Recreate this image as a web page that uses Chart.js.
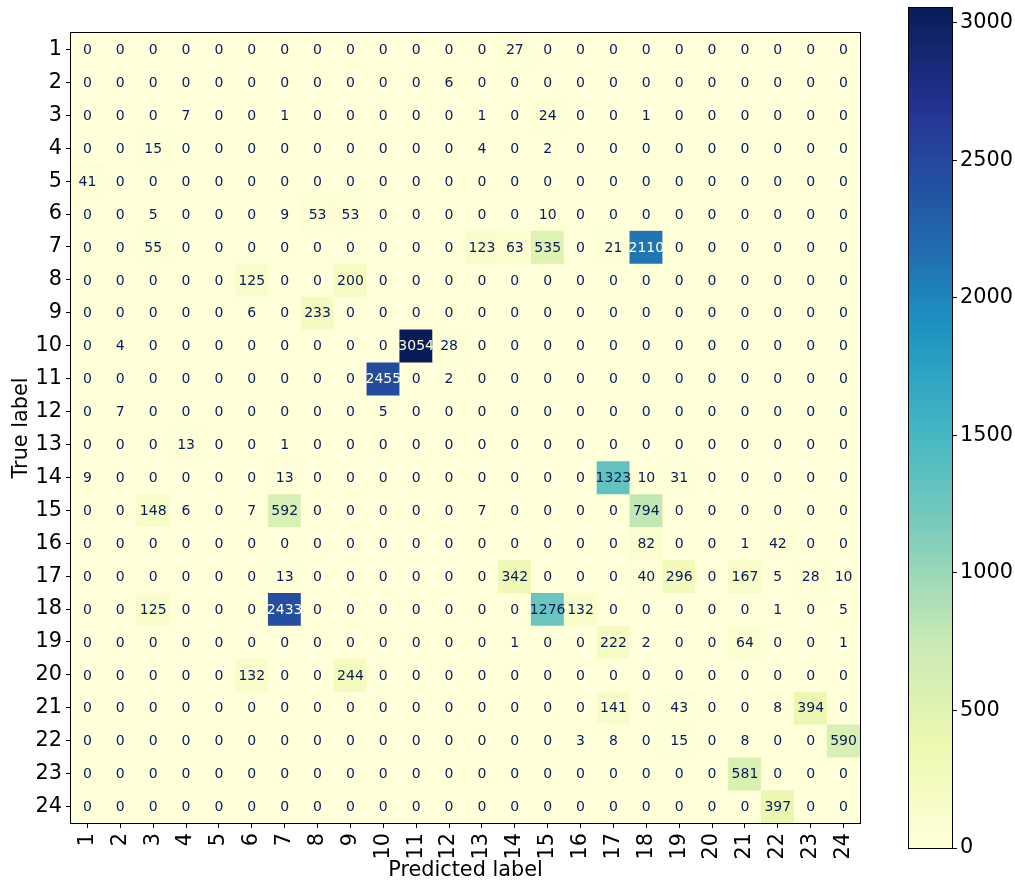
<!DOCTYPE html>
<html>
<head>
<meta charset="utf-8">
<title>Confusion matrix</title>
<script src="https://cdn.jsdelivr.net/npm/chart.js@4.4.1/dist/chart.umd.min.js"></script>
<style>
    html, body { margin: 0; padding: 0; background: #fff; }
    #wrap { position: relative; width: 1015px; height: 882px; }
    #matrixChart { position: absolute; left: 0; top: 0; }
    #colorbar { position: absolute; left: 860px; top: 0; }
</style>
</head>
<body>
<div id="wrap">
    <canvas id="matrixChart" width="900" height="882"></canvas>
    <canvas id="colorbar" width="155" height="882"></canvas>
</div>
<script>
const trueLabels = ["1", "2", "3", "4", "5", "6", "7", "8", "9", "10", "11", "12",
    "13", "14", "15", "16", "17", "18", "19", "20", "21", "22", "23", "24"];
const predictedLabels = ["1", "2", "3", "4", "5", "6", "7", "8", "9", "10", "11", "12",
    "13", "14", "15", "16", "17", "18", "19", "20", "21", "22", "23", "24"];

// rows = true label, columns = predicted label
const counts = [
    [0, 0, 0, 0, 0, 0, 0, 0, 0, 0, 0, 0, 0, 27, 0, 0, 0, 0, 0, 0, 0, 0, 0, 0],
    [0, 0, 0, 0, 0, 0, 0, 0, 0, 0, 0, 6, 0, 0, 0, 0, 0, 0, 0, 0, 0, 0, 0, 0],
    [0, 0, 0, 7, 0, 0, 1, 0, 0, 0, 0, 0, 1, 0, 24, 0, 0, 1, 0, 0, 0, 0, 0, 0],
    [0, 0, 15, 0, 0, 0, 0, 0, 0, 0, 0, 0, 4, 0, 2, 0, 0, 0, 0, 0, 0, 0, 0, 0],
    [41, 0, 0, 0, 0, 0, 0, 0, 0, 0, 0, 0, 0, 0, 0, 0, 0, 0, 0, 0, 0, 0, 0, 0],
    [0, 0, 5, 0, 0, 0, 9, 53, 53, 0, 0, 0, 0, 0, 10, 0, 0, 0, 0, 0, 0, 0, 0, 0],
    [0, 0, 55, 0, 0, 0, 0, 0, 0, 0, 0, 0, 123, 63, 535, 0, 21, 2110, 0, 0, 0, 0, 0, 0],
    [0, 0, 0, 0, 0, 125, 0, 0, 200, 0, 0, 0, 0, 0, 0, 0, 0, 0, 0, 0, 0, 0, 0, 0],
    [0, 0, 0, 0, 0, 6, 0, 233, 0, 0, 0, 0, 0, 0, 0, 0, 0, 0, 0, 0, 0, 0, 0, 0],
    [0, 4, 0, 0, 0, 0, 0, 0, 0, 0, 3054, 28, 0, 0, 0, 0, 0, 0, 0, 0, 0, 0, 0, 0],
    [0, 0, 0, 0, 0, 0, 0, 0, 0, 2455, 0, 2, 0, 0, 0, 0, 0, 0, 0, 0, 0, 0, 0, 0],
    [0, 7, 0, 0, 0, 0, 0, 0, 0, 5, 0, 0, 0, 0, 0, 0, 0, 0, 0, 0, 0, 0, 0, 0],
    [0, 0, 0, 13, 0, 0, 1, 0, 0, 0, 0, 0, 0, 0, 0, 0, 0, 0, 0, 0, 0, 0, 0, 0],
    [9, 0, 0, 0, 0, 0, 13, 0, 0, 0, 0, 0, 0, 0, 0, 0, 1323, 10, 31, 0, 0, 0, 0, 0],
    [0, 0, 148, 6, 0, 7, 592, 0, 0, 0, 0, 0, 7, 0, 0, 0, 0, 794, 0, 0, 0, 0, 0, 0],
    [0, 0, 0, 0, 0, 0, 0, 0, 0, 0, 0, 0, 0, 0, 0, 0, 0, 82, 0, 0, 1, 42, 0, 0],
    [0, 0, 0, 0, 0, 0, 13, 0, 0, 0, 0, 0, 0, 342, 0, 0, 0, 40, 296, 0, 167, 5, 28, 10],
    [0, 0, 125, 0, 0, 0, 2433, 0, 0, 0, 0, 0, 0, 0, 1276, 132, 0, 0, 0, 0, 0, 1, 0, 5],
    [0, 0, 0, 0, 0, 0, 0, 0, 0, 0, 0, 0, 0, 1, 0, 0, 222, 2, 0, 0, 64, 0, 0, 1],
    [0, 0, 0, 0, 0, 132, 0, 0, 244, 0, 0, 0, 0, 0, 0, 0, 0, 0, 0, 0, 0, 0, 0, 0],
    [0, 0, 0, 0, 0, 0, 0, 0, 0, 0, 0, 0, 0, 0, 0, 0, 141, 0, 43, 0, 0, 8, 394, 0],
    [0, 0, 0, 0, 0, 0, 0, 0, 0, 0, 0, 0, 0, 0, 0, 3, 8, 0, 15, 0, 8, 0, 0, 590],
    [0, 0, 0, 0, 0, 0, 0, 0, 0, 0, 0, 0, 0, 0, 0, 0, 0, 0, 0, 0, 581, 0, 0, 0],
    [0, 0, 0, 0, 0, 0, 0, 0, 0, 0, 0, 0, 0, 0, 0, 0, 0, 0, 0, 0, 0, 397, 0, 0],
];

const colorbarTicks = [0, 500, 1000, 1500, 2000, 2500, 3000];

// YlGnBu
const cmapStops = ["#ffffd9", "#edf8b1", "#c7e9b4", "#7fcdbb", "#41b6c4",
    "#1d91c0", "#225ea8", "#253494", "#081d58"];

const vmin = 0;
const vmax = Math.max(...counts.flat());
const threshold = (vmax + vmin) / 2;
const labelSize = 20.8;

Chart.defaults.font.family = "'DejaVu Sans', sans-serif";
Chart.defaults.color = "#000";

function hexToRgb(hex) {
    const n = parseInt(hex.slice(1), 16);
    return [(n >> 16) & 255, (n >> 8) & 255, n & 255];
}

function colorFor(value) {
    const t = Math.min(Math.max((value - vmin) / (vmax - vmin), 0), 1) * (cmapStops.length - 1);
    const i = Math.min(Math.floor(t), cmapStops.length - 2);
    const f = t - i;
    const a = hexToRgb(cmapStops[i]);
    const b = hexToRgb(cmapStops[i + 1]);
    const c = a.map((v, k) => Math.round(v + (b[k] - v) * f));
    return `rgb(${c[0]}, ${c[1]}, ${c[2]})`;
}

// no automatic label padding, fixed axis sizes
function fixSize(prop, size) {
    return (scale) => {
        scale[prop] = size;
        scale.paddingTop = 0;
        scale.paddingBottom = 0;
        scale.paddingLeft = 0;
        scale.paddingRight = 0;
    };
}

const frame = {
    id: "frame",
    afterDraw(chart) {
        const { ctx, chartArea: a } = chart;
        ctx.save();
        ctx.strokeStyle = "#000";
        ctx.lineWidth = 1;
        ctx.strokeRect(Math.round(a.left) - 0.5, Math.round(a.top) - 0.5,
            Math.round(a.right - a.left) + 1, Math.round(a.bottom - a.top) + 1);
        ctx.restore();
    },
};

const cellText = {
    id: "cellText",
    beforeDatasetsDraw(chart) {
        const { ctx, chartArea: a } = chart;
        ctx.save();
        ctx.fillStyle = colorFor(0);
        ctx.fillRect(a.left, a.top, a.right - a.left, a.bottom - a.top);
        ctx.restore();
    },
    afterDatasetsDraw(chart) {
        const ctx = chart.ctx;
        ctx.save();
        ctx.font = "14px 'DejaVu Sans'";
        ctx.textAlign = "center";
        ctx.textBaseline = "middle";
        counts.forEach((row, r) => {
            chart.getDatasetMeta(r).data.forEach((bar, c) => {
                const p = bar.getCenterPoint();
                ctx.fillStyle = row[c] < threshold ? cmapStops[cmapStops.length - 1] : cmapStops[0];
                ctx.fillText(String(row[c]), p.x, p.y + 1);
            });
        });
        ctx.restore();
    },
};

new Chart(document.getElementById("matrixChart"), {
    type: "bar",
    data: {
        labels: predictedLabels,
        datasets: counts.map((row, r) => ({
            label: trueLabels[r],
            data: row.map(() => [r + 0.5, r + 1.5]),
            backgroundColor: row.map((v) => colorFor(v)),
            borderWidth: 0,
            grouped: false,
            barPercentage: 1,
            categoryPercentage: 1,
        })),
    },
    options: {
        responsive: false,
        animation: false,
        layout: { padding: { left: 0, top: 33, right: 40, bottom: 0 } },
        plugins: { legend: { display: false }, tooltip: { enabled: false } },
        scales: {
            x: {
                grid: { offset: false, drawOnChartArea: false, tickLength: 5, color: "#000" },
                border: { display: false },
                ticks: { font: { size: labelSize }, minRotation: 90, maxRotation: 90, padding: 5, autoSkip: false },
                title: { display: true, text: "Predicted label", font: { size: labelSize, lineHeight: 1.1 }, padding: 0 },
                afterFit: fixSize("height", 59),
            },
            y: {
                reverse: true,
                min: 0.5,
                max: trueLabels.length + 0.5,
                afterBuildTicks: (scale) => {
                    scale.ticks = trueLabels.map((_, i) => ({ value: i + 1 }));
                },
                grid: { drawOnChartArea: false, tickLength: 5, color: "#000" },
                border: { display: false },
                ticks: { font: { size: labelSize }, padding: 4, callback: (v) => trueLabels[v - 1] },
                title: { display: true, text: "True label", font: { size: labelSize }, padding: { top: 9, bottom: 0 } },
                afterFit: fixSize("width", 71),
            },
        },
    },
    plugins: [cellText, frame],
});

function colorbarFill(context) {
    const chart = context.chart;
    if (!chart.chartArea) return cmapStops[0];
    const y = chart.scales.y;
    const g = chart.ctx.createLinearGradient(0, y.getPixelForValue(vmin), 0, y.getPixelForValue(vmax));
    cmapStops.forEach((c, i) => g.addColorStop(i / (cmapStops.length - 1), c));
    return g;
}

new Chart(document.getElementById("colorbar"), {
    type: "bar",
    data: {
        labels: [""],
        datasets: [{
            data: [[vmin, vmax]],
            backgroundColor: colorbarFill,
            borderWidth: 0,
            barPercentage: 1,
            categoryPercentage: 1,
        }],
    },
    options: {
        responsive: false,
        animation: false,
        layout: { padding: { left: 49, top: 8, right: 0, bottom: 34 } },
        plugins: { legend: { display: false }, tooltip: { enabled: false } },
        scales: {
            x: { display: false },
            y: {
                position: "right",
                min: vmin,
                max: vmax,
                afterBuildTicks: (scale) => {
                    scale.ticks = colorbarTicks.map((v) => ({ value: v }));
                },
                grid: { drawOnChartArea: false, tickLength: 5, color: "#000" },
                border: { display: false },
                ticks: { font: { size: labelSize }, padding: 3, callback: (v) => String(v) },
                afterFit: fixSize("width", 63),
            },
        },
    },
    plugins: [frame],
});
</script>
</body>
</html>
